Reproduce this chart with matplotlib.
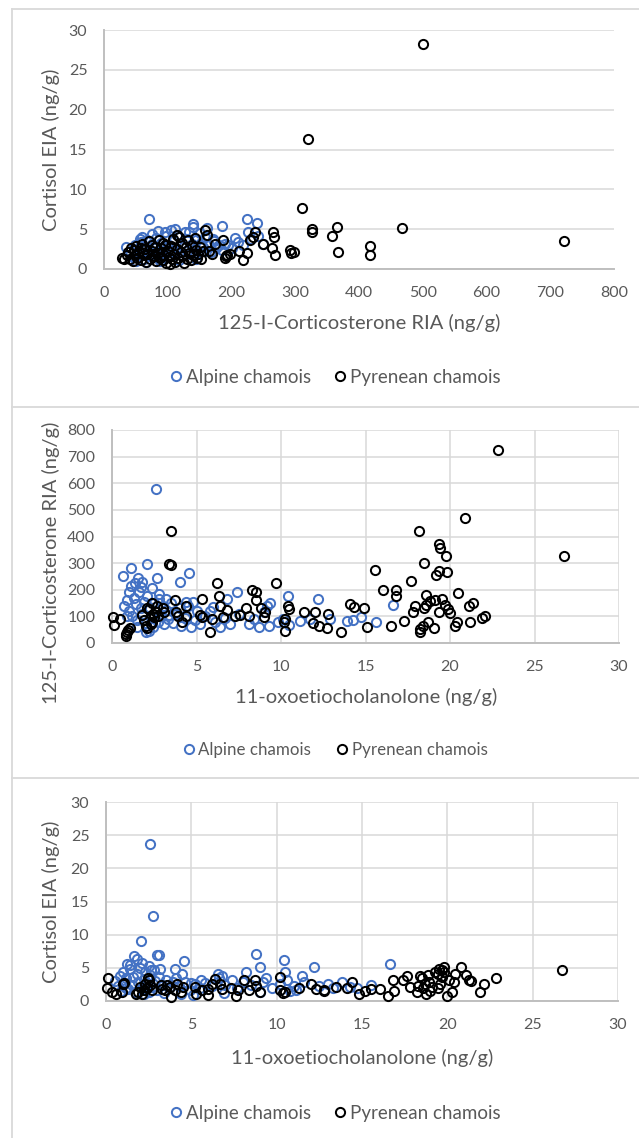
import matplotlib
matplotlib.use('Agg')
import matplotlib.pyplot as plt
from matplotlib.lines import Line2D

plt.rcParams['font.family'] = ['Lato', 'DejaVu Sans']

# ---- Panel 1: cortisol EIA vs 125-I-corticosterone RIA ----
p1_alp_x = [70, 84, 112, 127, 139, 140, 150, 162, 171, 185, 190, 205, 218, 224, 226, 240, 250, 35, 56,
            40, 45, 48, 52, 55, 58, 60, 62, 65, 68, 70, 72, 75, 78, 80, 82, 85, 88, 90, 92, 95, 98,
            100, 102, 105, 108, 110, 113, 115, 118, 120, 122, 125, 128, 130, 133, 135, 138, 142, 145,
            148, 152, 155, 158, 160, 165, 168, 172, 175, 180, 185, 195, 200, 210, 230, 242, 60, 75,
            95, 105, 50, 66, 88, 118, 145, 100]
p1_alp_y = [6.3, 4.8, 5.0, 4.7, 5.7, 5.3, 4.5, 5.1, 3.8, 5.4, 3.2, 3.9, 3.0, 6.3, 4.7, 5.8, 3.2, 2.8, 3.8,
            2.2, 1.5, 3.0, 2.5, 1.8, 3.4, 2.0, 1.2, 2.8, 3.6, 1.6, 2.3, 3.1, 1.9, 2.6, 3.9, 1.4, 2.2, 3.3, 1.8, 2.7, 4.1,
            1.5, 3.0, 2.3, 3.7, 1.9, 2.6, 4.3, 2.1, 3.2, 1.7, 2.9, 3.8, 2.2, 4.6, 1.9, 3.1, 2.5, 3.6,
            2.0, 3.3, 2.8, 4.0, 2.3, 3.0, 2.1, 3.5, 2.6, 3.0, 2.4, 3.0, 2.6, 3.4, 3.8, 4.2, 4.0, 4.4,
            4.7, 4.9, 1.0, 0.9, 1.0, 1.1, 1.2, 2.9]
p1_pyr_x = [500, 320, 310, 327, 327, 365, 358, 367, 418, 418, 468, 722, 158, 161, 174, 187, 190, 193,
            198, 211, 218, 224, 237, 234, 229, 250, 265, 266, 263, 268, 292, 294, 298, 192, 170, 165,
            28, 32, 36, 38, 40, 42, 45, 48, 50, 52, 55, 58, 60, 62, 65, 66, 68, 70, 72, 75, 78, 80,
            82, 85, 86, 88, 90, 92, 94, 96, 98, 100, 102, 104, 105, 107, 108, 110, 112, 114, 116,
            118, 120, 122, 124, 126, 128, 130, 132, 134, 136, 138, 140, 142, 144, 146, 148, 150,
            152, 155, 115, 92, 76, 58, 47]
p1_pyr_y = [28.2, 16.3, 7.6, 5.0, 4.6, 5.3, 4.1, 2.1, 2.9, 1.7, 5.2, 3.5, 4.9, 4.3, 3.2, 3.6, 1.4, 1.8,
            1.9, 2.2, 1.1, 2.0, 4.6, 4.0, 3.6, 3.2, 4.7, 4.0, 2.6, 1.8, 2.4, 2.0, 2.1, 1.6, 1.9, 2.3,
            1.4, 1.2, 1.7, 2.1, 1.3, 2.6, 1.0, 1.8, 2.9, 1.4, 2.2, 1.1, 3.2, 1.7, 2.5, 0.9, 1.9, 3.5, 1.3, 2.3, 1.6, 2.8,
            1.0, 2.0, 3.6, 1.4, 2.6, 1.1, 1.8, 3.0, 0.8, 2.2, 1.5, 0.6, 2.9, 1.2, 3.8, 1.9, 0.9, 2.5, 1.4,
            4.0, 2.1, 3.3, 1.6, 0.8, 2.7, 1.3, 3.6, 2.0, 1.1, 3.0, 1.7, 3.9, 2.4, 1.4, 1.9, 2.8,
            1.2, 2.2, 4.3, 3.3, 3.0, 2.6, 2.4]

# ---- Panel 2: corticosterone RIA vs 11-oxoetiocholanolone ----
p2_alp_x = [2.6, 2.05, 0.65, 1.1, 4.55, 4.0, 2.65, 1.55, 1.8, 1.1, 1.35, 2.35, 7.4, 10.4, 12.2, 16.65,
            6.8, 9.35, 9.2, 4.4, 3.2,
            0.7, 0.9, 1.0, 1.2, 1.3, 1.4, 1.5, 1.6, 1.7, 1.8, 1.9, 2.0, 2.0, 2.1, 2.2, 2.3, 2.4, 2.5,
            2.6, 2.7, 2.8, 2.9, 3.0, 3.1, 3.2, 3.3, 3.5, 3.6, 3.8, 4.0, 4.1, 4.3, 4.5, 4.7, 4.9, 5.2,
            5.5, 5.8, 6.1, 6.4, 6.7, 7.0, 7.5, 8.1, 8.4, 8.7, 9.0, 9.3, 9.8, 10.1, 10.5, 11.15, 11.7,
            12.9, 13.9, 14.25, 14.75, 15.6, 1.5, 2.2, 0.9, 3.4, 5.0, 6.0, 4.8, 1.0, 1.7, 2.8]
p2_alp_y = [578, 298, 252, 283, 264, 229, 243, 245, 230, 215, 227, 205, 193, 177, 164, 142,
            167, 152, 140, 155, 165,
            140, 160, 120, 100, 170, 145, 85, 190, 130, 110, 155, 40, 75, 175, 135, 95, 60, 150,
            120, 80, 165, 105, 140, 70, 125, 90, 150, 75, 110, 130, 65, 95, 140, 60, 85, 70,
            100, 120, 80, 59, 95, 71, 110, 71, 90, 59, 115, 65, 77, 90, 67, 83, 90,
            92, 83, 87, 96, 80, 60, 45, 100, 105, 120, 135, 155, 190, 210, 185]
p2_pyr_x = [0.05, 0.12, 0.48, 0.8, 0.85, 0.9, 0.95, 1.05, 1.8, 2.0, 2.1, 2.2, 2.35, 2.5, 2.65, 2.6,
            2.37, 3.1, 3.4, 3.5, 3.5, 3.75, 3.8, 3.9, 4.15, 4.35, 4.4, 5.2, 5.35, 5.3, 5.8, 5.9, 6.2,
            6.35, 6.4, 6.55, 6.8, 7.3, 7.6, 7.9, 8.1, 8.3, 8.5, 8.55, 8.8, 9.05, 9.0, 9.7, 10.25,
            10.2, 10.25, 10.4, 10.45, 11.35, 12.0, 11.9, 12.25, 12.8, 12.75, 13.55, 14.1, 14.3, 14.9,
            15.1, 15.55, 16.05, 16.5, 16.8, 16.8, 17.3, 17.7, 17.8, 17.9, 18.15, 18.2, 18.25, 18.4,
            18.7, 18.45, 18.45, 18.6, 18.6, 18.8, 19.05, 19.1, 19.2, 19.35, 19.85, 19.35, 19.4, 19.35,
            19.5, 19.7, 19.9, 20.0, 19.75, 20.3, 20.4, 20.5, 21.1, 21.35, 21.2, 21.9, 22.1, 22.85,
            26.75, 20.88, 1.9, 2.3, 2.45, 2.1, 2.7, 3.0]
p2_pyr_y = [96, 67, 90, 28, 35, 42, 50, 58, 105, 65, 55, 127, 150, 96, 140, 115,
            80, 118, 295, 293, 419, 160, 115, 102, 77, 102, 140, 105, 98, 164, 40, 92, 224,
            177, 140, 98, 123, 100, 105, 132, 102, 200, 192, 162, 133, 117, 98, 227, 92,
            77, 44, 140, 127, 117, 115, 75, 62, 108, 58, 42, 148, 136, 133,
            61, 273, 200, 65, 198, 177, 83, 233, 115, 140, 420, 52, 40, 65,
            77, 299, 133, 142, 180, 158, 55, 162, 254, 270, 268, 370, 358, 118,
            165, 142, 127, 111, 326, 65, 80, 189, 140, 152, 80, 93, 102, 725,
            326, 470, 85, 72, 110, 130, 100, 130]

# ---- Panel 3: cortisol EIA vs 11-oxoetiocholanolone ----
p3_alp_x = [2.6, 2.77, 2.05, 2.96, 3.13, 4.56, 8.77, 10.41, 16.65, 12.18, 9.05, 10.5, 8.2, 11.5, 9.4,
            6.8, 6.55, 4.04, 4.45, 3.15, 1.65, 1.8, 1.4, 1.25, 2.1, 2.5, 2.65, 13.0, 13.8, 14.3, 15.55,
            5.54, 7.4, 5.0, 11.15,
            0.5, 0.7, 0.8, 0.9, 1.0, 1.1, 1.2, 1.3, 1.4, 1.5, 1.6, 1.7, 1.8, 1.9, 2.0, 2.1, 2.2, 2.3,
            2.4, 2.5, 2.6, 2.7, 2.8, 2.9, 3.0, 3.1, 3.3, 3.5, 3.7, 3.9, 4.1, 4.3, 4.6, 4.9, 5.2, 5.5,
            5.8, 6.2, 6.6, 7.0, 7.7, 8.0, 8.5, 9.2, 9.7, 10.2, 10.6, 11.0, 11.6, 12.5, 13.3, 14.7,
            1.2, 2.2, 3.4, 4.4, 5.1, 6.9, 9.0, 10.8]
p3_alp_y = [23.65, 12.86, 9.08, 6.86, 6.86, 6.05, 7.16, 6.25, 5.65, 5.09, 5.09, 4.4, 4.4, 3.8, 3.4,
            3.8, 4.1, 4.8, 4.0, 4.75, 6.8, 6.4, 5.4, 5.65, 5.8, 5.25, 4.65, 2.6, 2.8, 2.1, 2.37,
            3.1, 3.2, 2.77, 1.6,
            3.0, 2.2, 3.8, 1.5, 4.3, 2.7, 3.4, 1.8, 4.8, 2.4, 3.6, 1.3, 4.1, 2.9, 5.0, 1.9, 3.3, 4.4,
            2.5, 1.4, 3.9, 2.1, 4.6, 3.0, 1.7, 3.6, 2.4, 3.2, 1.9, 2.8, 3.5, 2.2, 2.9, 1.6, 2.5, 1.9,
            2.7, 2.2, 3.5, 2.4, 2.0, 2.9, 2.4, 2.8, 2.0, 2.5, 3.2, 2.2, 2.9, 2.3, 2.0, 1.9,
            2.0, 1.1, 1.2, 1.0, 0.9, 1.2, 1.3, 1.5]
p3_pyr_x = [26.73, 22.83, 22.15, 21.9, 20.83, 21.1, 21.25, 21.4, 20.45, 20.4, 20.3, 19.97, 19.8, 19.7,
            19.5, 19.3, 19.45, 19.8, 19.7, 19.55, 19.45, 19.1, 18.85, 18.7, 18.6, 18.5, 18.4, 18.3,
            18.2, 18.75, 18.9, 17.65, 17.4, 16.8, 16.9, 16.5, 17.8, 16.05, 15.55, 15.2, 14.85, 14.4,
            14.1, 13.5, 12.75, 12.3, 12.0, 11.3, 10.5, 10.2, 10.2, 9.05, 8.8, 8.75, 8.1, 8.4, 7.75,
            7.6, 7.3, 6.8, 6.66, 6.38, 6.23, 5.95, 5.95, 5.6, 5.23, 5.28, 4.5, 4.4, 4.15, 4.04, 3.8,
            3.75, 3.56, 3.44, 3.3, 3.2, 2.7, 2.6, 2.5, 2.45, 2.3, 2.2, 2.1, 2.0, 1.85, 1.75, 1.05,
            0.93, 0.57, 0.33, 0.14, 0.05, 1.0, 2.4, 10.4, 12.8, 20.1, 19.0]
p3_pyr_y = [4.6, 3.4, 2.57, 1.36, 5.2, 3.9, 3.2, 3.0, 4.0, 2.9, 1.36, 0.8, 5.1, 4.6,
            4.75, 4.4, 4.1, 4.4, 3.6, 2.6, 1.9, 2.1, 3.9, 2.6, 1.9, 3.5, 3.8, 2.3,
            1.3, 1.1, 2.9, 3.7, 3.1, 3.1, 1.5, 0.8, 2.1, 1.87, 1.77, 1.5, 1.0, 2.9,
            2.0, 2.1, 1.5, 1.87, 2.5, 2.0, 1.36, 1.6, 3.6, 1.36, 2.2, 3.2, 3.2, 1.6, 1.6,
            0.8, 1.9, 1.87, 2.6, 3.3, 2.6, 1.87, 0.86, 1.6, 2.1, 1.1, 2.1, 1.36, 2.6, 1.6, 0.6,
            2.1, 2.37, 1.6, 1.87, 2.37, 1.6, 2.37, 3.1, 3.4, 2.6, 1.6, 1.1, 2.1, 1.36, 1.1, 2.77,
            1.36, 1.1, 1.36, 3.4, 2.0, 2.5, 2.0, 1.2, 1.7, 3.2, 1.5]

xlabel_cort = '125-I-Corticosterone RIA (ng/g)'
xlabel_oxo = '11-oxoetiocholanolone (ng/g)'
ylabel_cortisol = 'Cortisol EIA (ng/g)'
ylabel_cort = '125-I-Corticosterone RIA (ng/g)'
names = ['Alpine chamois', 'Pyrenean chamois']

blue = '#4472C4'
txtc = '#595959'
gridc = '#d9d9d9'
W, H = 639, 1138
MS, MEW = 6.6, 1.45

fig = plt.figure(figsize=(W / 100, H / 100), dpi=100)


def rect(l, t, r, b):
    return [l / W, 1 - b / H, (r - l) / W, (b - t) / H]


def setup(ax, xlim, xstep, ylim, ystep, xgrid):
    ax.set_xlim(*xlim)
    ax.set_ylim(*ylim)
    ax.set_xticks(range(xlim[0], xlim[1] + 1, xstep))
    ax.set_yticks(range(ylim[0], ylim[1] + 1, ystep))
    ax.tick_params(length=0, pad=12, labelsize=11.5, labelcolor=txtc)
    ax.yaxis.grid(True, color=gridc, lw=1.1)
    if xgrid:
        ax.xaxis.grid(True, color=gridc, lw=1.1)
    ax.set_axisbelow(True)
    for s in ['top', 'right']:
        ax.spines[s].set_visible(False)
    for s in ['left', 'bottom']:
        ax.spines[s].set_color('#bfbfbf')
        ax.spines[s].set_linewidth(1.4)


def pts(ax, x, y, c):
    ax.plot(x, y, 'o', ms=MS, mfc='none', mec=c, mew=MEW, clip_on=False, zorder=3)


def legend(ycen, fs, colsp):
    h = [Line2D([], [], ls='none', marker='o', ms=MS, mfc='none', mec=blue, mew=MEW),
         Line2D([], [], ls='none', marker='o', ms=MS, mfc='none', mec='black', mew=MEW)]
    fig.legend(h, names, loc='center', bbox_to_anchor=(336 / W, 1 - ycen / H), ncol=2,
               frameon=False, fontsize=fs, labelcolor=txtc, handlelength=0.5,
               handletextpad=0.3, columnspacing=colsp, borderaxespad=0)


ax1 = fig.add_axes(rect(104, 30, 614, 269))
setup(ax1, (0, 800), 100, (0, 30), 5, False)
pts(ax1, p1_alp_x, p1_alp_y, blue)
pts(ax1, p1_pyr_x, p1_pyr_y, 'black')
fig.text(359 / W, 1 - 323 / H, xlabel_cort, ha='center', va='center', fontsize=14.5, color=txtc)
fig.text(51 / W, 1 - 150 / H, ylabel_cortisol, ha='center', va='center', rotation=90, fontsize=14.5, color=txtc)
legend(377, 13.5, 1.3)

ax2 = fig.add_axes(rect(112, 430, 619, 643))
setup(ax2, (0, 30), 5, (0, 800), 100, True)
pts(ax2, p2_alp_x, p2_alp_y, blue)
pts(ax2, p2_pyr_x, p2_pyr_y, 'black')
fig.text(366 / W, 1 - 697 / H, xlabel_oxo, ha='center', va='center', fontsize=14.5, color=txtc)
fig.text(51 / W, 1 - 563 / H, ylabel_cort, ha='center', va='center', rotation=90, fontsize=14.5, color=txtc)
legend(750, 12.2, 1.6)

ax3 = fig.add_axes(rect(106, 802, 618, 1001))
setup(ax3, (0, 30), 5, (0, 30), 5, True)
pts(ax3, p3_alp_x, p3_alp_y, blue)
pts(ax3, p3_pyr_x, p3_pyr_y, 'black')
fig.text(362 / W, 1 - 1058 / H, xlabel_oxo, ha='center', va='center', fontsize=14.5, color=txtc)
fig.text(51 / W, 1 - 902 / H, ylabel_cortisol, ha='center', va='center', rotation=90, fontsize=14.5, color=txtc)
legend(1113, 13.5, 1.3)

# panel frames
for (x0, y0, x1, y1) in [(12, 9, 12, H), (12, 9, W, 9), (12, 407, W, 407), (12, 778, W, 778)]:
    fig.add_artist(Line2D([x0 / W, x1 / W], [1 - y0 / H, 1 - y1 / H], color=gridc, lw=1.3,
                          transform=fig.transFigure))

fig.savefig('out.png', dpi=100, facecolor='white')
